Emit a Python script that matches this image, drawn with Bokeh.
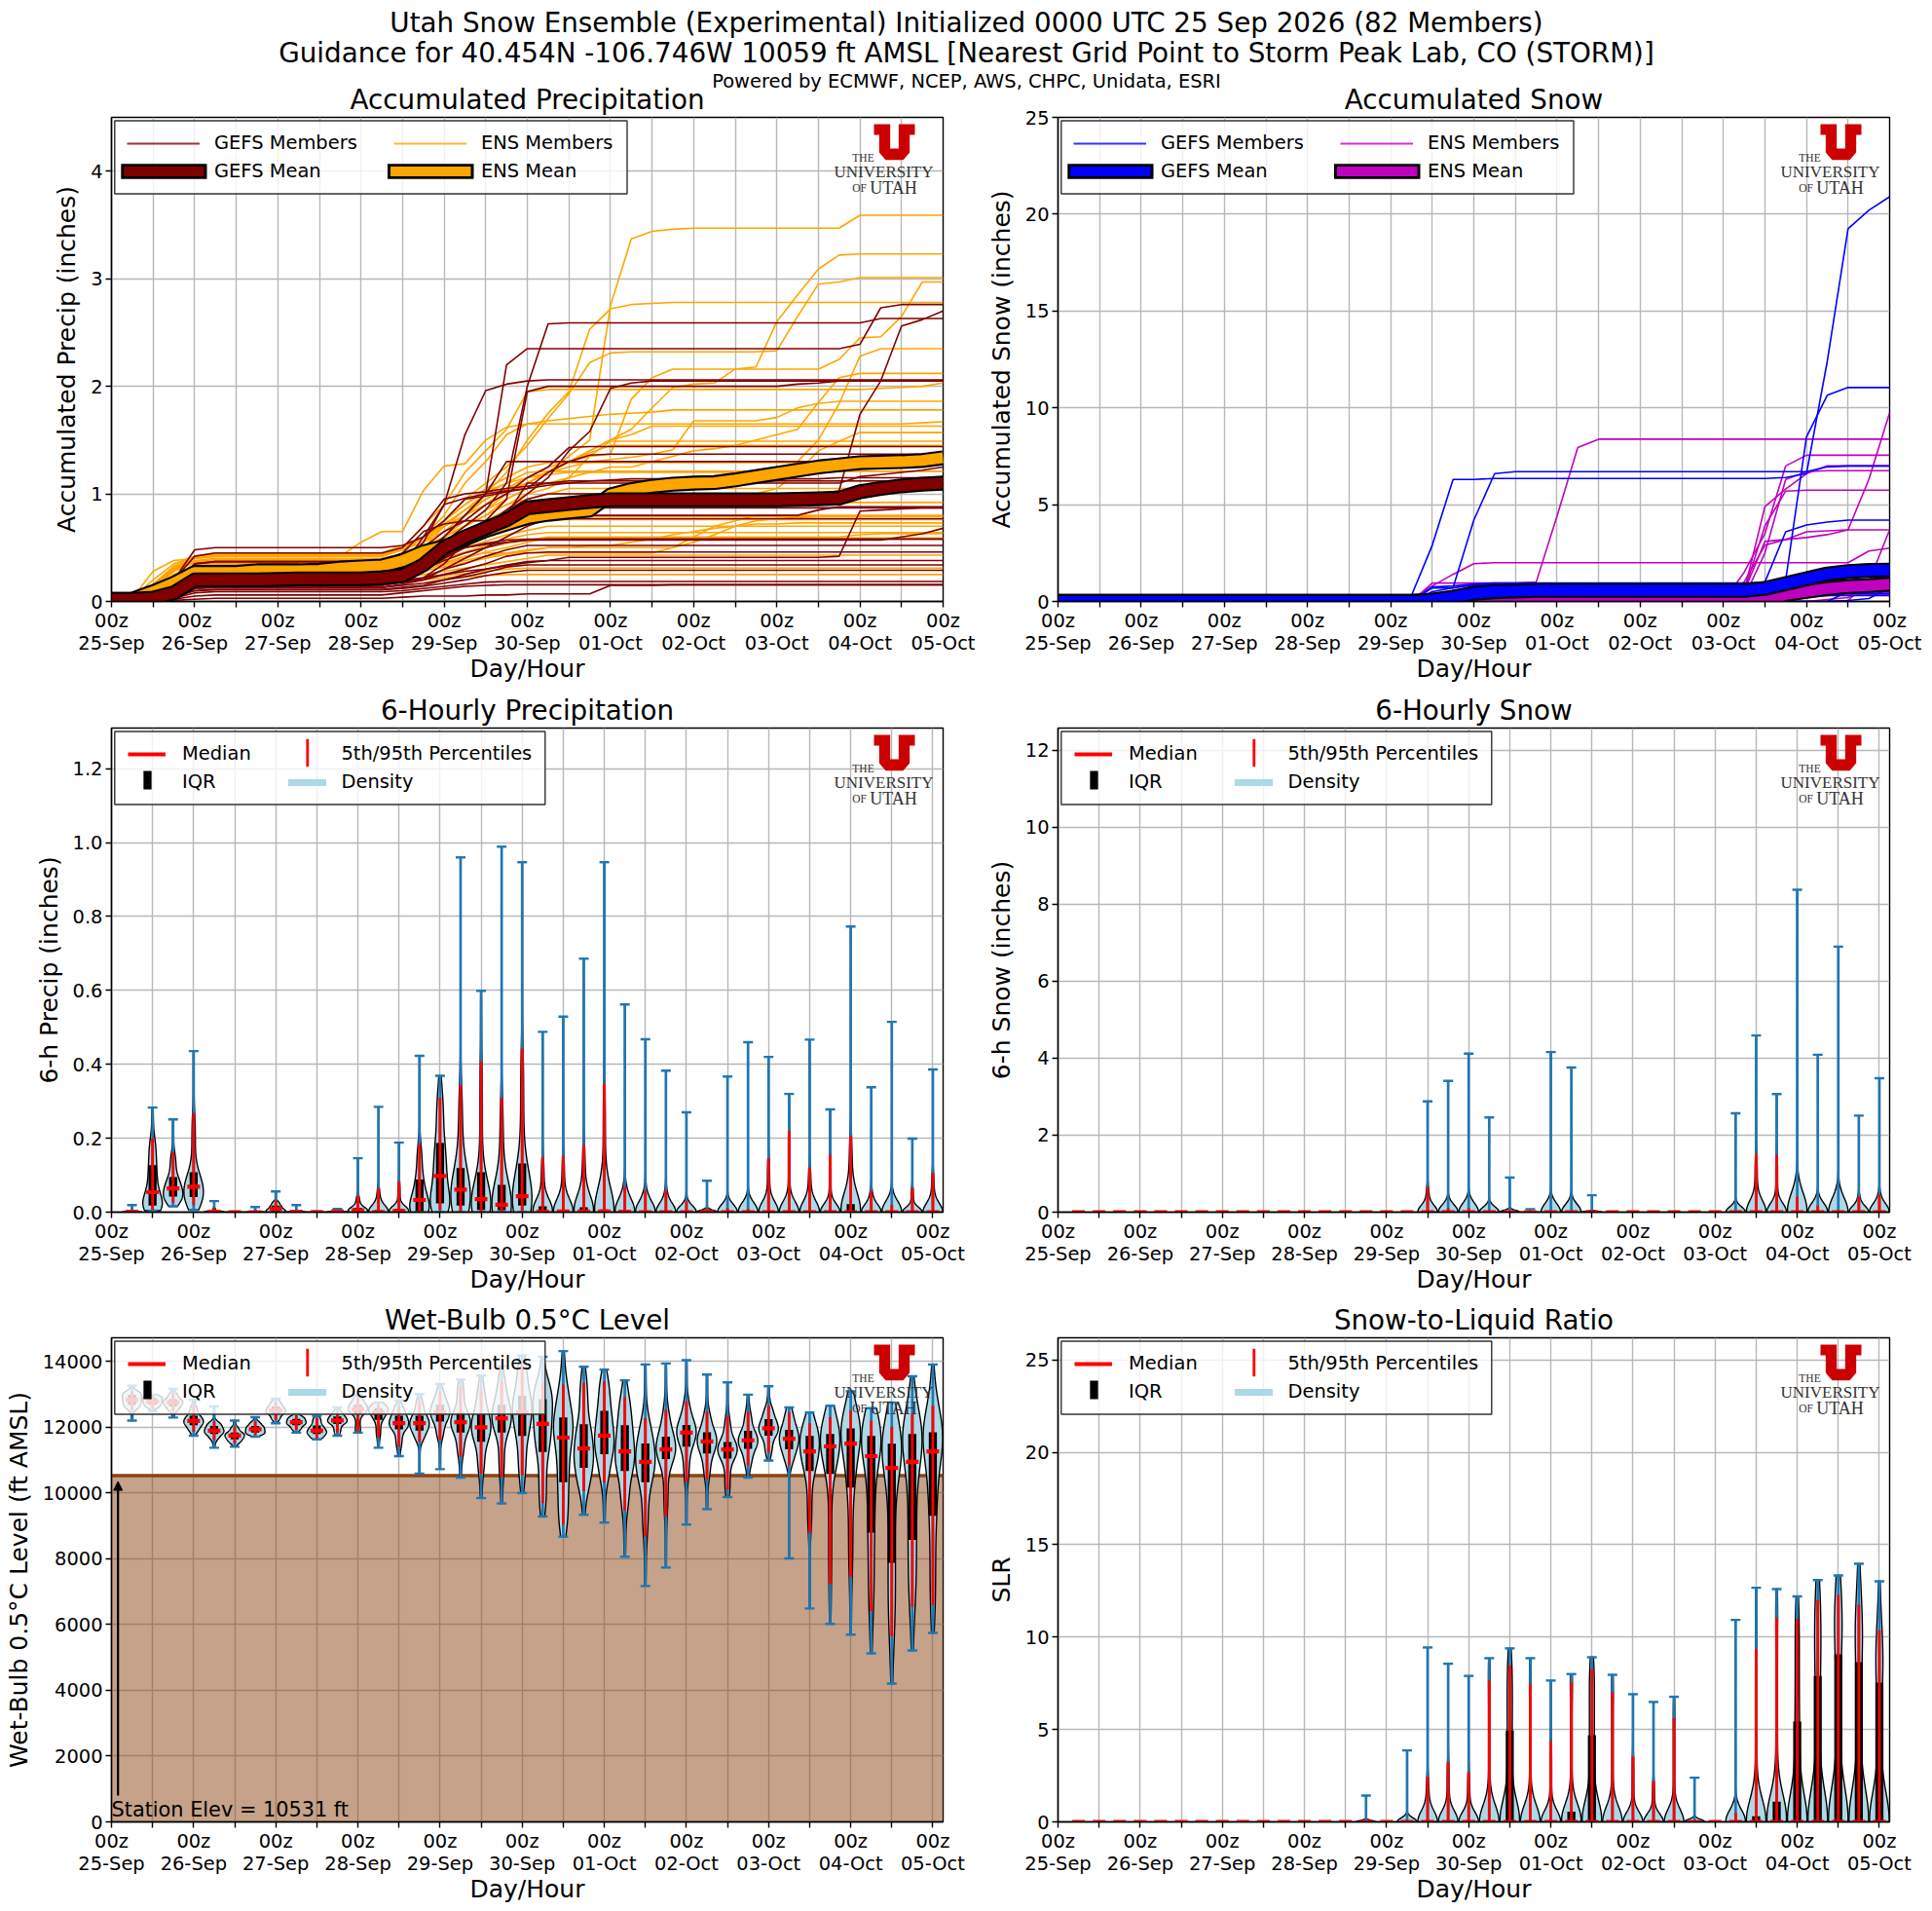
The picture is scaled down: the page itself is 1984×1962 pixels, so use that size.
import numpy as np
from bokeh.plotting import figure
from bokeh.layouts import column, row
from bokeh.models import Range1d, FixedTicker, Legend, LegendItem, Arrow, NormalHead, NumeralTickFormatter
from bokeh.core.properties import value
from bokeh.embed import file_html
from bokeh.resources import INLINE

# ---------------- chart values ----------------
DAY_LABELS = ["25-Sep","26-Sep","27-Sep","28-Sep","29-Sep","30-Sep","01-Oct","02-Oct","03-Oct","04-Oct","05-Oct"]
STATION_ELEV = [10531]
HOURS = list(range(0, 241, 6))
VIOLIN_HOURS = HOURS[1:]

GEFS_MEAN_PRECIP = [.02,.02,.03,.08,.2,.2,.2,.2,.205,.21,.21,.21,.21,.22,.24,.34,.5,.6,.68,.76,.87,.89,.91,.93,.945,.945,.945,.945,.945,.945,.945,.945,.945,.95,.955,.96,1.02,1.05,1.075,1.09,1.10]
ENS_MEAN_PRECIP = [.02,.02,.09,.17,.27,.27,.27,.285,.285,.285,.29,.31,.32,.33,.38,.46,.51,.58,.66,.72,.78,.81,.83,.85,.99,1.04,1.07,1.09,1.10,1.105,1.13,1.16,1.19,1.22,1.25,1.27,1.29,1.295,1.30,1.31,1.335]
GEFS_MEAN_SNOW = [0]*18+[.07,.22,.42,.5,.54,.57,.57,.57,.57,.57,.57,.57,.57,.57,.57,.57,.67,.92,1.17,1.42,1.54,1.6,1.62]
ENS_MEAN_SNOW = [0]*20+[0,0,.0,0,0,0,0,0,0,0,0,0,0,0,.03,.37,.52,.67,.77,.82,.89]

GEFS_PRECIP_MEMBERS = [
 [0,.01,.05,.12,.28]+[.3]*9+[.35,.55,.9,1.55,1.96,2.02,2.05,2.06],
 [0,.01,.04,.1,.25]+[.28]*9+[.3,.35,.6,.8,1.0,2.2,2.35]+[2.35]*15+[2.39,2.73,2.76],
 [0,.01,.05,.1,.3]+[.33]*9+[.36,.42,.55,.7,.85,1.1,2.0,2.58]+[2.59]*15+[2.63],
 [0,0,.03,.08,.2]+[.22]*9+[.25,.3,.45,.6,.75,.95,1.95,2.0]+[2.0]*11+[2.02,2.03,2.05],
 [0,0,.02,.05,.13]+[.15]*9+[.18,.22,.35,.55,.7,.85,1.0,1.15,1.4,1.58,1.98,2.03,2.05],
 [0,.01,.04,.1,.22]+[.24]*9+[.26,.3,.4,.55,.7,.85,.95,1.0]+[1.0]*13+[1.03,1.74,2.05,2.56,2.62,2.70],
 [0,.01,.06,.15,.35]+[.37]*9+[.4,.5,.65,.75,.9,1.0,1.15,1.25,1.43,1.44],
 [0,.02,.07,.2,.48]+[.5]*9+[.52,.6,.75,.95,.98,1.02,1.05,1.2,1.3,1.36,1.37],
 [0,.01,.05,.12,.3]+[.32]*9+[.36,.45,.6,.8,1.0,1.3]+[1.3]*20+[1.305],
 [0,0,.03,.08,.18]+[.2]*9+[.22,.28,.4,.5,.65,.8,1.1]+[1.1]*15+[1.16,1.18,1.2,1.22,1.25],
 [0,.01,.04,.1,.2]+[.22]*9+[.25,.3,.45,.6,.7,.8,.85,.87],
 [0,0,.02,.05,.12]+[.13]*9+[.16,.2,.3,.4,.5,.6,.7,.77],
 [0,0,.03,.07,.16]+[.18]*9+[.2,.22,.25,.28,.3,.33,.36,.38]+[.41]*13+[.42,.84,.85,.86,.87],
 [0,.01,.04,.1,.25]+[.27]*9+[.3,.35,.42,.5,.53,.55,.57,.58],
 [0,.01,.03,.08,.2]+[.22]*9+[.24,.3,.38,.45,.5,.55]+[.57]*18+[.6,.63,.68],
 [0,.01,.03,.09,.22]+[.24]*9+[.28,.34,.44,.5,.54,.57,.58],
 [0,0,.02,.06,.14]+[.15]*9+[.18,.22,.3,.35,.42,.48,.52],
 [0,0,.03,.07,.15]+[.16]*9+[.18,.2,.25,.3,.35,.42,.45,.46],
 [0,0,.02,.05,.1]+[.11]*9+[.13,.15,.2,.25,.3,.34,.37,.38],
 [0,0,.02,.06,.12]+[.13]*9+[.15,.17,.2,.23,.27,.32,.34],
 [0,0,.01,.04,.1]+[.11]*9+[.12,.14,.17,.2,.24,.27,.29],
 [0,0,.01,.03,.08]+[.09]*9+[.1,.12,.14,.16,.18,.185],
 [0,0,.01,.02,.05]+[.06]*9+[.08,.1,.12,.14,.15,.155],
 [0,0,0,.01,.02]+[.03]*9+[.04,.05,.05,.05,.06,.06,.07,.07,.07,.07,.15,.15,.15,.155],
 [0,.02,.06,.2,.42]+[.45]*9+[.5,.7,.95,1.0,1.02,1.05,1.07,1.1,1.12],
 [0,.01,.05,.12,.35]+[.37]*9+[.45,.65,.72,.75,.75,.75,.75,.78,.8]+[.8]*11+[.85,.88,.88],
 [0,.01,.04,.09,.24]+[.26]*9+[.32,.6,.9,.96,1.0,1.03,1.05,1.08,1.1,1.12,1.13]+[1.14]*10+[1.15],
]
ENS_PRECIP_MEMBERS = [
 [0,.02,.1,.25,.32]+[.34]*9+[.45,.6,.7,.8,.9,1.0,1.1,1.2,1.35,1.5,2.75,3.37,3.44,3.46,3.47]+[3.47]*7+[3.59],
 [0,.02,.1,.2,.3]+[.32]*9+[.4,.55,.7,.8,.9,1.0,1.1,1.2,1.3,1.4,1.5,1.6,1.8,1.99,2.02,2.03,2.16,2.18,2.6,2.85,3.09,3.22,3.23],
 [0,.01,.08,.18,.3]+[.33]*9+[.4,.55,.75,.95,1.1,1.25,1.45,1.7,1.93,2.22,2.31]+[2.32]*7+[2.33,2.65,2.95,2.97,3.01],
 [0,.02,.12,.28,.36]+[.38]*9+[.4,.5,.7,.85,1.0,1.2,1.5,1.75,1.95,2.53,2.72,2.76,2.77,2.78],
 [0,.02,.12,.3,.36]+[.38]*9+[.42,.55,.75,.9,1.02,1.1,1.15,1.18,1.2]+[1.2]*10+[1.3,1.5,1.84,2.28,2.35],
 [0,.03,.15,.3,.4]+[.42]*9+[.48,.6,.72,.85,.95,1.05,1.15,1.25,1.3,1.35,1.37,1.88,2.08,2.16]+[2.16]*7+[2.25,2.45,2.46,2.65,2.97],
 [0,.01,.1,.22,.3]+[.33]*9+[.4,.5,.6,.7,.8,.95,1.05,1.1,1.15,1.2,1.25,1.25,1.3,1.35,1.4,1.42,1.45,1.5,1.55,1.6,1.85,2.08,2.12],
 [0,.02,.15,.32,.4]+[.43]*9+[.5,.7,.9,1.2,1.4,1.6,1.95]+[1.97]*16+[1.98,1.99,2.0,2.03,2.07],
 [0,.02,.1,.25,.33]+[.35]*9+[.4,.5,.6,.75,.9,1.05,1.15,1.2,1.25,1.3,1.32,1.34,1.37,1.41,1.68,1.68,1.68,1.68,1.71,1.8,1.84,1.86],
 [.0,.03,.28,.38,.4]+[.42]*7+[.55,.65,.65,1.03,1.26,1.28,1.5,1.62,1.65,1.68,1.7,1.72,1.74,1.75,1.76,1.78],
 [0,.02,.12,.28,.36]+[.38]*9+[.45,.6,.8,1.1,1.3,1.55,1.65]+[1.65]*18+[1.66,1.67,1.69,1.71],
 [0,.02,.1,.25,.34]+[.36]*9+[.42,.5,.6,.7,.85,1.0,1.1,1.2,1.3,1.4,1.5,1.55,1.63],
 [0,.02,.13,.3,.38]+[.4]*9+[.44,.5,.6,.7,.8,.9,.95,1.0]+[1.0]*10+[1.05,1.2,1.4,1.49,1.57],
 [0,.01,.1,.22,.3]+[.32]*9+[.36,.45,.55,.7,.8,.9,1.0,1.05,1.15,1.35,1.49],
 [0,.02,.14,.31,.4]+[.42]*9+[.48,.55,.65,.8,.95,1.05,1.1,1.2,1.3,1.38,1.45],
 [0,.03,.2,.35,.42]+[.45]*9+[.52,.6,.75,.9,1.05,1.15,1.25,1.29],
 [0,.02,.16,.33,.42]+[.44]*9+[.5,.6,.7,.85,1.0,1.1,1.2,1.21],
 [0,.02,.12,.3,.37]+[.39]*9+[.42,.5,.6,.7,.85,.95,1.05,1.1,1.12],
 [0,.01,.1,.2,.3]+[.32]*9+[.36,.42,.55,.65,.75,.85,.95,1.0,1.05],
 [0,.01,.08,.2,.28]+[.3]*9+[.34,.4,.5,.6,.7,.8,.85,.92],
 [0,.02,.1,.25,.32]+[.34]*9+[.36,.42,.5,.58,.65,.72,.75,.79],
 [0,.01,.08,.18,.26]+[.28]*9+[.32,.38,.45,.55,.62,.7,.74,.76],
 [0,.01,.1,.22,.3]+[.31]*9+[.33,.36,.42,.5,.56,.62,.66,.7],
 [0,.01,.08,.18,.26]+[.27]*9+[.3,.34,.4,.46,.52,.58,.62,.64],
 [0,.01,.06,.14,.22]+[.24]*9+[.26,.3,.35,.4,.46,.5,.55,.59],
 [0,.02,.1,.2,.27]+[.29]*9+[.31,.35,.4,.45,.5,.54,.57,.6]+[.6]*14+[.62,.63],
 [0,.01,.05,.12,.2]+[.22]*9+[.24,.28,.32,.36,.4,.44,.47,.5]+[.5]*6+[.6,.7,.75,.8],
 [0,.01,.05,.1,.18]+[.2]*9+[.22,.25,.28,.31,.34,.37,.4,.43],
 [0,.0,.05,.1,.16]+[.18]*9+[.2,.22,.24,.26,.28,.3,.31],
 [0,.0,.04,.09,.15]+[.16]*9+[.18,.2,.22,.23,.24,.25],
 [0,.01,.08,.2,.27]+[.28]*9+[.3,.32,.36,.42,.45]+[.45]*8+[.5,.55,.62,.7,.75,.77,.78,.79],
 [0,.01,.07,.16,.24]+[.26]*9+[.28,.3,.34,.38,.42,.45,.48,.5,.5,.52,.52,.55,.58,.62,.65,.68,.7,.72,.72,.73],
]
GEFS_SNOW_MEMBERS = [
 [0]*17+[.3,2.9,6.3,6.3]+[6.35]*14+[6.4,6.6,12.4,19.25,20.2,20.9],
 [0]*18+[.7,.7,4.2,6.6]+[6.7]*15+[6.95,7,7,7],
 [0]*18+[.75,.8,.9]+[.95]*14+[1.1,8.5,10.65,11.05],
 [0]*18+[.5,.7,.85]+[.9]*13+[1.0,3.6,3.95,4.1,4.2],
 [0]*18+[.3,.5,.8]+[.85]*13+[.9,.95,1.0],
 [0]*37+[0,.5,.5,.9],
 [0]*35+[.1,.35,.4,.42],
 [0]*38+[.05,.15,.7],
 [0]*34+[.05,.2,.3],
]
ENS_SNOW_MEMBERS = [
 [0]*18+[.95,.95,.95,.95,.95,1.0,4.4,7.95,8.38],
 [0]*17+[.1,.8,1.4,1.95]+[2.0]*17+[2.0,2.6,2.75],
 [0]*33+[1,2.9,3.2,3.3,3.45,3.7,6.3,9.75],
 [0]*33+[1.5,3.5,7.0,7.55],
 [0]*33+[.5,4.9,5.8,6.6,7.0],
 [0]*33+[.2,2.5,6.3,6.7,6.75],
 [0]*33+[.5,3.9,5.7,5.75],
 [0]*33+[.5,3.1,3.2,3.6,3.65,3.7],
 [0]*38+[.05,1.0,3.7],
 [0]*36+[.2,.3,.4,.5,.5],
 [0]*35+[.1,.3,.35,.35],
 [0]*37+[.1,.2,.6,.9],
]

PR_MAX = [.019,.283,.251,.436,.03,.001,.014,.056,.019,.002,.009,.146,.285,.188,.423,.369,.96,.599,.989,.947,.488,.529,.686,.947,.562,.468,.383,.27,.085,.367,.46,.42,.32,.467,.278,.773,.338,.515,.199,.386]
PR_P95 = [.005,.2,.162,.268,.012,0,.004,.03,.005,.001,.004,.044,.065,.083,.184,.31,.343,.408,.309,.443,.148,.152,.181,.347,.068,.058,.058,.03,.009,.011,.009,.145,.22,.121,.155,.206,.057,.02,.066,.107]
PR_Q3 = [0,.127,.095,.108,.002,0,0,.018,0,0,.001,.012,.005,.009,.088,.187,.119,.108,.074,.132,.016,.004,.013,.007,.002,0,0,0,0,0,0,0,0,0,0,.022,0,0,0,0]
PR_MED = [.001,.054,.064,.069,.001,0,0,.009,.001,0,.002,.005,0,.003,.033,.098,.061,.035,.02,.043,.001,.002,.002,.002,.001,0,0,0,.001,0,0,0,0,0,0,0,0,0,0,0]
PR_Q1 = [0,.018,.042,.041,0,0,0,.002,0,0,0,0,0,0,.003,.024,.018,.006,.005,.018,0,0,0,0,0,0,0,0,0,0,0,0,0,0,0,0,0,0,0,0]
PR_P5 = [0,.006,.025,.019,0,0,0,0,0,0,0,0,0,0,0,.005,.003,0,0,.003,0,0,0,0,0,0,0,0,0,0,0,0,0,0,0,0,0,0,0,0]
PR_MIN = [0,.004,.016,.006,0,0,0,0,0,0,0,0,0,0,0,0,0,0,0,0,0,0,0,0,0,0,0,0,0,0,0,0,0,0,0,0,0,0,0,0]

SN_MAX = [0]*17+[2.88,3.41,4.12,2.46,.9,.08,4.16,3.76,.44]+[0]*6+[2.57,4.59,3.07,8.38,4.09,6.9,2.51,3.48]
SN_P95 = [0]*17+[.66,.1,.1,.05,.02,0,.03,.03,0]+[0]*6+[.03,1.52,1.49,.4,.17,.05,.4,.44]
SN_ZERO = [0]*40

WB_MAX = [13265,12990,13163,12837,12633,12204,12306,12867,12428,12347,12602,12990,12755,12816,13010,13316,13449,13571,13857,14184,14143,14316,13837,13755,13428,13908,13939,14041,13602,13367,12990,13245,12602,12449,12653,13092,12582,12755,13551,13908]
WB_P95 = [13092,12959,13041,12633,12173,12020,12173,12786,12347,12275,12480,12888,12684,12633,12786,13061,13245,13143,13398,13857,13347,13296,13347,13398,12918,12275,12531,12786,12480,12327,12480,12653,12449,12122,12306,12510,12204,12020,12408,12653]
WB_Q3 = [12990,12888,12857,12347,12041,11837,12041,12633,12255,12051,12327,12684,12582,12347,12347,12684,12449,12408,12684,12959,12857,12296,12092,12500,12061,11510,11714,12071,11847,11551,11888,12245,11918,11735,11796,11969,11735,11500,11796,11847]
WB_MED = [12837,12786,12755,12194,11898,11745,11939,12510,12153,11898,12204,12551,12449,12122,12122,12449,12153,12000,12275,12449,12102,11684,11357,11745,11265,10949,11326,11837,11571,11326,11602,11969,11653,11265,11418,11500,11122,10765,10949,11265]
WB_Q1 = [12684,12684,12633,12061,11796,11633,11837,12408,12061,11796,12102,12408,12224,11939,11898,12173,11837,11561,11837,11735,11245,10327,10765,11184,10673,10327,11031,11408,11204,11051,11347,11745,11326,10673,10582,10163,8796,7878,8571,9306]
WB_P5 = [12531,12582,12480,11867,11612,11510,11765,12224,11918,11663,11837,11867,11694,11408,11561,11633,11102,10592,10490,10541,9694,9041,10061,10316,9469,8673,9286,10337,10418,10102,10837,11224,10837,8786,7245,7459,6408,5643,6541,6592]
WB_MIN = [12204,12480,12296,11745,11378,11408,11714,12122,11837,11633,11745,11837,11378,11122,10592,10724,10469,9847,9684,10000,9286,8673,9337,9102,8061,7173,7735,9041,9510,9878,10469,10990,8010,6490,6020,5694,5122,4204,5214,5745]

SLR_MAX = [0]*14+[1.42,0,3.87,9.44,8.56,7.9,8.86,9.39,8.86,7.65,8.0,8.91,7.96,6.91,6.49,6.77,2.39,0,10.93,12.67,12.6,12.2,13.09,13.34,13.97,13.02]
SLR_P95 = [0]*14+[.02,0,.1,2.44,3.25,2.67,7.65,8.47,7.47,4.38,7.57,8.26,7.0,3.55,2.2,5.62,.1,0,.5,9.35,11.05,10.98,12.0,12.28,11.76,10.37]
SLR_Q3 = [0]*14+[0,0,0,0,0,0,0,4.94,0,0,.56,4.69,0,0,0,0,0,0,0,.3,1.1,5.43,7.9,9.07,8.65,7.54]
SLR_ZERO = [0]*40

TICKS = list(range(0, 241, 12))
FONT = "DejaVu Sans"
TICK_PX, LABEL_PX, TITLE_PX = "19.44px", "25px", "27.78px"
FW, FH = 854, 497
GRID = "#b8b8b8"
BLUE = "#1f77b4"

# logo outline, in the crop's own pixels
LOGO_U_X = [172,222,222,248,248,298,298,282,282,262,208,188,188,172]
LOGO_U_Y = [25,25,100,100,25,25,58,58,112,135,135,112,58,58]


def full(v):
    return (list(v) + [v[-1]] * 41)[:41]


def panel(title, ylabel, ymax, yticks, xmax, left=114, right=40, bottom=90):
    p = figure(frame_width=FW, frame_height=FH, x_range=Range1d(0, xmax), y_range=Range1d(0, ymax),
               output_backend="svg", toolbar_location=None, title=title,
               min_border_left=left, min_border_right=right, min_border_top=39, min_border_bottom=bottom,
               x_axis_label="Day/Hour", y_axis_label=ylabel)
    p.border_fill_alpha = 0
    p.extra_x_ranges["px"] = Range1d(0, FW)
    p.extra_y_ranges["py"] = Range1d(FH, 0)
    p.title.align = "center"
    p.title.text_font = FONT
    p.title.text_font_size = TITLE_PX
    p.title.text_font_style = "normal"
    p.title.text_color = "black"
    p.title.standoff = 3
    labels = {}
    for t in TICKS:
        labels[t] = f"00z\n{DAY_LABELS[t // 24]}" if t % 24 == 0 else ""
    p.xaxis.ticker = FixedTicker(ticks=TICKS)
    p.xaxis.major_label_overrides = labels
    p.yaxis.ticker = FixedTicker(ticks=yticks)
    for ax in (p.xaxis[0], p.yaxis[0]):
        ax.major_label_text_font = FONT
        ax.major_label_text_font_size = TICK_PX
        ax.major_label_text_color = "black"
        ax.major_label_text_line_height = 1.0
        ax.axis_label_text_font = FONT
        ax.axis_label_text_font_size = LABEL_PX
        ax.axis_label_text_font_style = "normal"
        ax.axis_label_text_color = "black"
        ax.major_tick_line_color = "black"
        ax.major_tick_line_width = 1.4
        ax.major_tick_out = 6
        ax.major_tick_in = 0
        ax.minor_tick_line_color = None
        ax.axis_line_color = "black"
        ax.axis_line_width = 1.4
    p.xaxis[0].major_label_standoff = 2
    p.xaxis[0].axis_label_standoff = -3
    p.yaxis[0].axis_label_standoff = 7
    p.yaxis[0].major_label_standoff = 3
    p.grid.grid_line_color = GRID
    p.grid.grid_line_width = 1.4
    p.outline_line_color = "black"
    p.outline_line_width = 1.4
    return p


def px_kw(level="overlay"):
    return dict(x_range_name="px", y_range_name="py", level=level)


def logo(p):
    xs = [783 + (c - 172) / 3 for c in LOGO_U_X]
    ys = [7 + (c - 25) / 3 for c in LOGO_U_Y]
    p.patch(xs, ys, fill_color="#cc0000", line_color=None, **px_kw())
    for x, y, txt, size in [(772, 41, "THE", "11.5px"), (793, 56, "UNIVERSITY", "17px"),
                            (768, 72, "OF", "11.5px"), (803, 72, "UTAH", "18px")]:
        p.text([x], [y], [txt], text_font=value("Liberation Serif"), text_font_size=size, text_color="#333333",
               text_align="center", text_baseline="middle", **px_kw())


def legend_box(p, right):
    p.quad(left=[3.3], right=[right], top=[78.5], bottom=[3.5], fill_color="white", fill_alpha=0.8,
           line_color="#333333", line_width=1.4, **px_kw("guide"))


def add_legend(p, items, x, glyph_w, standoff):
    leg = Legend(items=[LegendItem(label=dict(value=l), renderers=r) for l, r in items],
                 location=(x, FH - 67.4), orientation="vertical", padding=0, margin=0, spacing=6,
                 glyph_width=glyph_w, glyph_height=20, label_height=20, label_standoff=standoff,
                 label_text_font=FONT, label_text_font_size=TICK_PX, label_text_color="black",
                 background_fill_alpha=0, border_line_color=None, level="annotation")
    p.add_layout(leg, "center")


OFF = [-1000, -999]  # legend handles only: outside every axis range


def ens_panel(p, first, second, first_mean, second_mean, c1, c2):
    """first is drawn first (underneath), second on top."""
    for members, col in ((first, c1), (second, c2)):
        for m in members:
            p.line(HOURS, full(m), line_color=col, line_width=1.6)
    for mean, col in ((first_mean, c1), (second_mean, c2)):
        p.line(HOURS, mean, line_color="black", line_width=15.3, line_join="round")
        p.line(HOURS, mean, line_color=col, line_width=11.1, line_join="round")


def mean_legend(p, gefs_col, ens_col):
    legend_box(p, 529.5)
    def handles(col, x0, x1):
        thin = p.line(OFF, OFF, line_color=col, line_width=1.8, line_alpha=0.8)
        blank = p.line(OFF, OFF, line_alpha=0)
        p.quad(left=[x0], right=[x1], top=[63.2], bottom=[47.8], fill_color="black", line_color=None, **px_kw())
        p.quad(left=[x0 + 3], right=[x1 - 3], top=[60.5], bottom=[50.5], fill_color=col, line_color=None, **px_kw())
        return thin, blank
    t1, b1 = handles(gefs_col, 9.8, 98)
    t2, b2 = handles(ens_col, 283.5, 372)
    add_legend(p, [("GEFS Members", [t1]), ("GEFS Mean", [b1])], 16, 75, 15)
    add_legend(p, [("ENS Members", [t2]), ("ENS Mean", [b2])], 290, 75, 15)


def violin_outline(pos, stats, width=5.7):
    """Outline of one violin: a kernel density of the read quantiles, evaluated from min to max."""
    mn, p5, q1, med, q3, p95, mx = stats
    if mx - mn <= 0:
        return None
    sample = np.interp(np.linspace(0, 1, 82), [0, .05, .25, .5, .75, .95, 1], [mn, p5, q1, med, q3, p95, mx])
    bw = 0.85 * 82 ** -0.2 * sample.std(ddof=1)
    y = np.linspace(mn, mx, 120)
    dens = np.exp(-0.5 * ((y[:, None] - sample[None, :]) / bw) ** 2).sum(axis=1)
    half = dens / dens.max() * width / 2
    return list(pos - half) + list(pos + half[::-1]), list(y) + list(y[::-1])


def violins(p, mn, p5, q1, med, q3, p95, mx):
    xs, ys = [], []
    for i, h in enumerate(VIOLIN_HOURS):
        out = violin_outline(h, (mn[i], p5[i], q1[i], med[i], q3[i], p95[i], mx[i]))
        if out:
            xs.append(out[0])
            ys.append(out[1])
    p.patches(xs, ys, fill_color="lightblue", fill_alpha=1, line_color="black", line_width=1.4)
    p.segment(VIOLIN_HOURS, mn, VIOLIN_HOURS, mx, line_color=BLUE, line_width=2.7)
    p.scatter(VIOLIN_HOURS, mx, marker="dash", size=10, line_color=BLUE, line_width=2.4)
    p.scatter(VIOLIN_HOURS, mn, marker="dash", size=10, line_color=BLUE, line_width=2.4)
    p.segment(VIOLIN_HOURS, q1, VIOLIN_HOURS, q3, line_color="black", line_width=8.3)
    p.segment(VIOLIN_HOURS, p5, VIOLIN_HOURS, p95, line_color="red", line_width=2.8)
    p.scatter(VIOLIN_HOURS, med, marker="dash", size=13, line_color="red", line_width=4.2)


def violin_legend(p):
    legend_box(p, 445.3)
    med = p.line(OFF, OFF, line_color="red", line_width=4.2)
    none1 = p.line(OFF, OFF, line_alpha=0)
    none2 = p.line(OFF, OFF, line_alpha=0)
    dens = p.line(OFF, OFF, line_color="lightblue", line_width=7, line_cap="square")
    add_legend(p, [("Median", [med]), ("IQR", [none1])], 17, 39, 17)
    add_legend(p, [("5th/95th Percentiles", [none2]), ("Density", [dens])], 181.5, 39, 16)
    p.segment([37], [44], [37], [63], line_color="black", line_width=8.3, **px_kw())
    p.segment([201.3], [11.3], [201.3], [39.7], line_color="red", line_width=2.8, **px_kw())


# -------- header --------
HW, HH = 1976, 96
head = figure(width=HW, height=HH, x_range=Range1d(0, HW), y_range=Range1d(HH, 0), output_backend="svg",
              toolbar_location=None, min_border=0, margin=(0, 0, -15, 0))
head.axis.visible = False
head.grid.visible = False
head.outline_line_color = None
head.background_fill_alpha = 0
head.border_fill_alpha = 0
for y, txt, size in [(23, "Utah Snow Ensemble (Experimental) Initialized 0000 UTC 25 Sep 2026 (82 Members)", TITLE_PX),
                     (54, "Guidance for 40.454N -106.746W 10059 ft AMSL [Nearest Grid Point to Storm Peak Lab, CO (STORM)]", TITLE_PX),
                     (83, "Powered by ECMWF, NCEP, AWS, CHPC, Unidata, ESRI", TICK_PX)]:
    head.text([992], [y], [txt], text_font=value(FONT), text_font_size=size, text_color="black",
              text_align="center", text_baseline="middle")

# -------- panels --------
MAROON, ORANGE = "#800000", "#ffa500"
BLUE2, MAGENTA = "#0000ff", "#bf00bf"

p1 = panel("Accumulated Precipitation", "Accumulated Precip (inches)", 4.5, [0, 1, 2, 3, 4], 240, bottom=91)
ens_panel(p1, ENS_PRECIP_MEMBERS, GEFS_PRECIP_MEMBERS, ENS_MEAN_PRECIP, GEFS_MEAN_PRECIP, ORANGE, MAROON)
mean_legend(p1, MAROON, ORANGE)
logo(p1)

p2 = panel("Accumulated Snow", "Accumulated Snow (inches)", 25, [0, 5, 10, 15, 20, 25], 240, left=78, right=35, bottom=91)
ens_panel(p2, ENS_SNOW_MEMBERS, GEFS_SNOW_MEMBERS, ENS_MEAN_SNOW, GEFS_MEAN_SNOW, MAGENTA, BLUE2)
mean_legend(p2, BLUE2, MAGENTA)
logo(p2)

XMAX = 243
p3 = panel("6-Hourly Precipitation", "6-h Precip (inches)", 1.31, [0, .2, .4, .6, .8, 1.0, 1.2], XMAX, bottom=90)
p3.yaxis.formatter = NumeralTickFormatter(format="0.0")
violins(p3, PR_MIN, PR_P5, PR_Q1, PR_MED, PR_Q3, PR_P95, PR_MAX)
violin_legend(p3)
logo(p3)

p4 = panel("6-Hourly Snow", "6-h Snow (inches)", 12.58, [0, 2, 4, 6, 8, 10, 12], XMAX, left=78, right=35, bottom=90)
violins(p4, SN_ZERO, SN_ZERO, SN_ZERO, SN_ZERO, SN_ZERO, SN_P95, SN_MAX)
violin_legend(p4)
logo(p4)

p5 = panel("Wet-Bulb 0.5°C Level", "Wet-Bulb 0.5°C Level (ft AMSL)", 14720, list(range(0, 14001, 2000)), XMAX, bottom=88)
p5.quad(left=[0], right=[XMAX], bottom=[0], top=STATION_ELEV, fill_color="#8b4513", fill_alpha=0.5, line_color=None)
p5.line([0, XMAX], STATION_ELEV * 2, line_color="#8b4513", line_width=3.5)
violins(p5, WB_MIN, WB_P5, WB_Q1, WB_MED, WB_Q3, WB_P95, WB_MAX)
p5.add_layout(Arrow(end=NormalHead(size=9, fill_color="black", line_color="black"), x_start=1.9, y_start=800,
                    x_end=1.9, y_end=10350, line_color="black", line_width=2.2))
p5.text([0], [357], [f"Station Elev = {STATION_ELEV[0]} ft"], text_font=value(FONT), text_font_size="20.83px",
        text_color="black", text_align="left", text_baseline="middle")
violin_legend(p5)
logo(p5)

p6 = panel("Snow-to-Liquid Ratio", "SLR", 26.2, [0, 5, 10, 15, 20, 25], XMAX, left=78, right=35, bottom=88)
violins(p6, SLR_ZERO, SLR_ZERO, SLR_ZERO, SLR_ZERO, SLR_Q3, SLR_P95, SLR_MAX)
violin_legend(p6)
logo(p6)

page = column(head, row(p1, p2, spacing=0), row(p3, p4, spacing=0), row(p5, p6, spacing=0), spacing=0)
open("out.html", "w").write(file_html(page, INLINE))
